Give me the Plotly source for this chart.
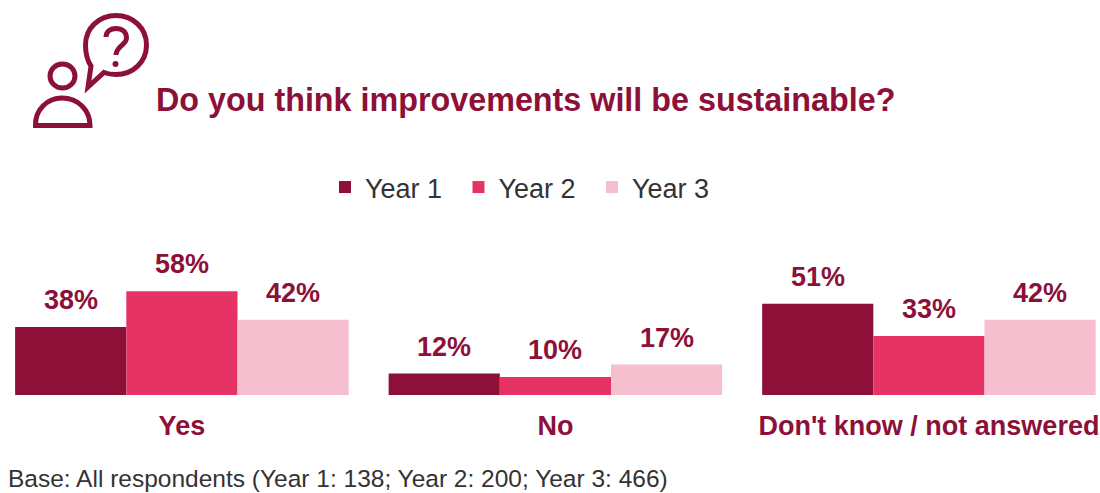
import plotly.graph_objects as go

categories = ["Yes", "No", "Don't know / not answered"]
year_1 = [38, 12, 51]
year_2 = [58, 10, 33]
year_3 = [42, 17, 42]

CRIMSON = "#8c1038"
W, H = 1100, 493
BASELINE = 395
FONT = "Liberation Sans"
BAR_WIDTH = 111.2


def px(x):
    return x / W


def py(y):
    # Paper coordinates span the plot area, which ends at the bar baseline
    return 1 - y / BASELINE


def bar(name, values, colour):
    return go.Bar(name=name, x=categories, y=values,
                  marker=dict(color=colour, line_width=0))


fig = go.Figure([
    bar("Year 1", year_1, "#8c1038"),
    bar("Year 2", year_2, "#e63265"),
    bar("Year 3", year_3, "#f6bfd0"),
])

shapes = []


def add_path(cmds, width=5):
    parts = []
    for c in cmds:
        parts.append(c if isinstance(c, str) else f"{px(c[0]):.5f},{py(c[1]):.5f}")
    shapes.append(dict(type="path", path=" ".join(parts), xref="paper", yref="paper",
                       line=dict(color=CRIMSON, width=width), fillcolor="rgba(0,0,0,0)"))


# Speech bubble with its tail
add_path(["M", (88, 87), "L", (91, 66),
          "C", (87, 60), (85.5, 53), (85.5, 45),
          "C", (85.5, 28), (99, 15.5), (116, 15.5),
          "C", (133, 15.5), (146.5, 28), (146.5, 45),
          "C", (146.5, 62), (133, 74.5), (116, 74.5),
          "C", (112, 74.5), (108, 74), (104, 72.5), "Z"])
# Question mark
add_path(["M", (106, 37),
          "C", (106, 31), (111, 28.5), (116, 28.5),
          "C", (122, 28.5), (126.5, 32), (126.5, 38),
          "C", (126.5, 45), (116, 46), (116, 55)])
shapes.append(dict(type="circle", xref="paper", yref="paper", x0=px(112.5), x1=px(118.5),
                   y0=py(67), y1=py(61), fillcolor=CRIMSON, line_width=0))
# Person: head and shoulders
shapes.append(dict(type="circle", xref="paper", yref="paper", x0=px(50), x1=px(75),
                   y0=py(88), y1=py(64), line=dict(color=CRIMSON, width=5),
                   fillcolor="rgba(0,0,0,0)"))
add_path(["M", (35.5, 125.5),
          "C", (35, 110), (47, 98), (62, 98),
          "C", (78, 98), (90, 110), (90, 125.5), "Z"])

# Value labels sit a fixed distance above each bar
value_labels = []
for offset, values in zip((-BAR_WIDTH, 0, BAR_WIDTH), (year_1, year_2, year_3)):
    for i, v in enumerate(values):
        value_labels.append(dict(
            text=f"<b>{v}%</b>", x=i, y=v, xref="x", yref="y", xshift=offset, yshift=27,
            xanchor="center", yanchor="middle", showarrow=False,
            font=dict(family=FONT, size=27, color=CRIMSON)))

fig.update_layout(
    width=W, height=H, margin=dict(l=0, r=0, t=0, b=H - BASELINE),
    paper_bgcolor="white", plot_bgcolor="white",
    barmode="group", bargap=0.107, bargroupgap=0, shapes=shapes,
    font=dict(family=FONT, color="#222222"),
    showlegend=True,
    legend=dict(orientation="h", xref="paper", yref="paper", x=px(325), xanchor="left",
                y=py(163), yanchor="top", font=dict(size=27, color="#333333"),
                entrywidth=88.5, entrywidthmode="pixels",
                itemsizing="constant", traceorder="normal", bgcolor="rgba(0,0,0,0)"),
    xaxis=dict(range=[-0.487, 2.458], showgrid=False, zeroline=False, showline=False,
               ticks="", ticklabelstandoff=12,
               tickfont=dict(family=FONT, size=27, color=CRIMSON, weight="bold")),
    yaxis=dict(range=[0, 220.7], visible=False),
    annotations=value_labels + [
        dict(text="<b>Do you think improvements will be sustainable?</b>", x=px(154), y=py(100),
             xref="paper", yref="paper", xanchor="left", yanchor="middle", showarrow=False,
             font=dict(size=32.3, color=CRIMSON, family=FONT)),
        dict(text="Base: All respondents (Year 1: 138; Year 2: 200; Year 3: 466)", x=px(6), y=py(478),
             xref="paper", yref="paper", xanchor="left", yanchor="middle", showarrow=False,
             font=dict(size=24.5, color="#333333", family=FONT)),
    ],
)
fig.write_html("out.html")
